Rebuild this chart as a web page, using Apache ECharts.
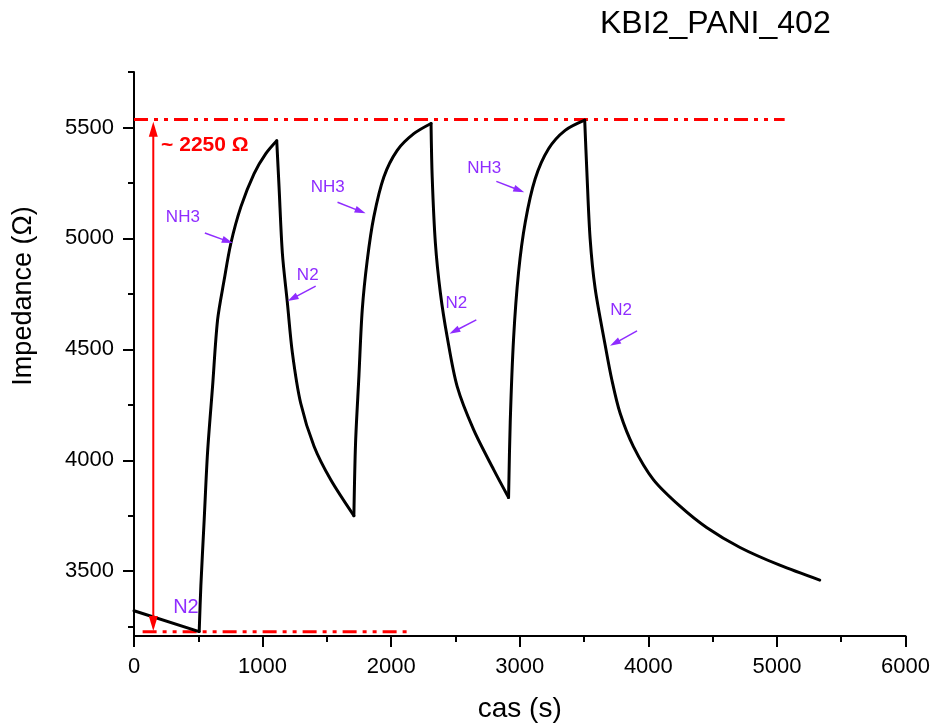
<!DOCTYPE html>
<html>
<head>
<meta charset="utf-8">
<script src="https://cdn.jsdelivr.net/npm/echarts@6/dist/echarts.min.js"></script>
<style>
  html, body { margin: 0; background: #fff; }
  #main { width: 933px; height: 728px; }
</style>
</head>
<body>
<div id="main"></div>
<script>
// time (s) and impedance (Ohm)
const time = [
  0, 507,
  520, 546, 572, 611, 650, 701, 753, 831, 934, 1025, 1110,
  1128, 1154, 1193, 1232, 1296, 1400, 1529, 1710,
  1723, 1749, 1775, 1814, 1865, 1943, 2047, 2176, 2310,
  2319, 2344, 2383, 2435, 2513, 2641, 2797, 2913,
  2926, 2952, 2991, 3043, 3120, 3224, 3353, 3505,
  3522, 3547, 3586, 3664, 3716, 3780, 3883, 4039, 4246, 4453, 4713, 5022, 5333
]
const impedance = [
  3322, 3228,
  3434, 3734, 4035, 4333, 4633, 4812, 4977, 5142, 5292, 5382, 5440,
  5232, 4932, 4708, 4483, 4258, 4063, 3913, 3750,
  4078, 4378, 4678, 4902, 5097, 5277, 5397, 5472, 5518,
  5277, 4977, 4753, 4558, 4333, 4138, 3958, 3832,
  4175, 4550, 4850, 5074, 5269, 5404, 5487, 5533,
  5299, 5000, 4775, 4520, 4363, 4213, 4063, 3913, 3793, 3697, 3607, 3527, 3460
]

const yMajor = [3500, 4000, 4500, 5000, 5500]
const yMinor = [3250, 3750, 4250, 4750, 5250, 5750]

// red guide lines and the span arrow
const topLine = [[0, 5536], [5060, 5536]]
const bottomLine = [[67, 3227], [2158, 3227]]
const spanArrow = [[150, 3230], [150, 5526]]
const spanText = [{name: '~ 2250 Ω', value: [551, 5419]}]

// gas annotations
const gasLabels = [
  {name: 'NH3', value: [380, 5096]},
  {name: 'N2', value: [1351, 4835]},
  {name: 'NH3', value: [1506, 5230]},
  {name: 'N2', value: [2507, 4709]},
  {name: 'NH3', value: [2724, 5316]},
  {name: 'N2', value: [3788, 4678]}
]
const gasArrows = [
  [[551, 5024], [768, 4979]],
  [[1413, 4785], [1195, 4718]],
  [[1583, 5163], [1801, 5113]],
  [[2662, 4633], [2453, 4570]],
  [[2818, 5257], [3035, 5208]],
  [[3912, 4583], [3702, 4516]]
]
const startLabel = [{name: 'N2', value: [404, 3338]}]

const font = 'Liberation Sans, Arial, sans-serif'
const purple = '#8f2cff'
const red = '#ff0000'

// split the trace where it turns, so each rise/decay is smoothed on its own
const segments = []
let start = 0
for (let i = 1; i < time.length - 1; i++) {
  if ((impedance[i] - impedance[i - 1]) * (impedance[i + 1] - impedance[i]) < 0) {
    segments.push(time.slice(start, i + 1).map((t, k) => [t, impedance[start + k]]))
    start = i
  }
}
segments.push(time.slice(start).map((t, k) => [t, impedance[start + k]]))

const chart = echarts.init(document.getElementById('main'))

const yBase = {
  type: 'value',
  min: 3208,
  max: 5750,
  splitLine: {show: false}
}

const textSeries = (data, size, color, weight) => ({
  type: 'scatter',
  data: data,
  symbolSize: 0,
  itemStyle: {opacity: 1},
  emphasis: {disabled: true},
  label: {
    show: true, position: 'inside', formatter: '{b}',
    fontFamily: font, fontSize: size, fontWeight: weight || 'normal', color: color
  }
})

chart.setOption({
  animation: false,
  title: {
    text: 'KBI2_PANI_402',
    left: 600,
    top: 8,
    padding: 0,
    textStyle: {fontFamily: font, fontSize: 32, fontWeight: 'normal', color: '#000'}
  },
  grid: {left: 134, right: 27, top: 72, bottom: 90},
  xAxis: {
    type: 'value',
    min: 0,
    max: 6000,
    interval: 1000,
    name: 'cas (s)',
    nameLocation: 'middle',
    nameGap: 59,
    nameTextStyle: {fontFamily: font, fontSize: 28, color: '#000'},
    axisLine: {lineStyle: {color: '#000', width: 2}},
    axisTick: {length: 11, lineStyle: {color: '#000', width: 2}},
    minorTick: {show: true, splitNumber: 2, length: 6, lineStyle: {color: '#000', width: 2}},
    axisLabel: {fontFamily: font, fontSize: 22, color: '#000', margin: 20, formatter: v => String(v)},
    splitLine: {show: false}
  },
  yAxis: [
    Object.assign({}, yBase, {
      axisLine: {show: true, lineStyle: {color: '#000', width: 2}},
      axisTick: {customValues: yMajor, length: 11, lineStyle: {color: '#000', width: 2}},
      axisLabel: {customValues: yMajor, fontFamily: font, fontSize: 22, color: '#000', margin: 20, formatter: v => String(v)}
    }),
    Object.assign({}, yBase, {
      position: 'left',
      axisLine: {show: false},
      axisTick: {customValues: yMinor, length: 6, lineStyle: {color: '#000', width: 2}},
      axisLabel: {show: false}
    })
  ],
  series: segments.map(seg => ({
    type: 'line',
    data: seg,
    showSymbol: false,
    smooth: 0.3,
    lineStyle: {color: '#000', width: 3, cap: 'round', join: 'round'},
    z: 5
  })).concat([
    {
      type: 'line',
      data: topLine,
      showSymbol: false,
      lineStyle: {color: red, width: 3, type: [14, 6, 4, 6, 4, 6]}
    },
    {
      type: 'line',
      data: bottomLine,
      showSymbol: false,
      lineStyle: {color: red, width: 3, type: [14, 6, 4, 6, 4, 6]}
    },
    textSeries(gasLabels, 17, purple),
    textSeries(startLabel, 20, purple),
    textSeries(spanText, 21, red, 'bold')
  ])
})

// arrows: placed from data coords through the grid, tips land on the end points
const finder = {xAxisIndex: 0, yAxisIndex: 0}
const graphics = [{
  type: 'text',
  x: 24,
  y: 296,
  rotation: Math.PI / 2,
  style: {
    text: 'Impedance (Ω)',
    font: '27px ' + font,
    fill: '#000',
    textAlign: 'center',
    textVerticalAlign: 'middle'
  }
}]

function head(tip, ux, uy, len, w, color) {
  const bx = tip[0] - ux * len, by = tip[1] - uy * len
  return {
    type: 'polygon', z: 20,
    shape: {points: [tip, [bx - uy * w / 2, by + ux * w / 2], [bx + uy * w / 2, by - ux * w / 2]]},
    style: {fill: color}
  }
}

function arrow(coords, color, width, len, w, both) {
  const a = chart.convertToPixel(finder, coords[0])
  const b = chart.convertToPixel(finder, coords[1])
  const d = Math.hypot(b[0] - a[0], b[1] - a[1])
  const ux = (b[0] - a[0]) / d, uy = (b[1] - a[1]) / d
  const s = both ? [a[0] + ux * len, a[1] + uy * len] : a
  graphics.push({
    type: 'line', z: 20,
    shape: {x1: s[0], y1: s[1], x2: b[0] - ux * len * 0.8, y2: b[1] - uy * len * 0.8},
    style: {stroke: color, lineWidth: width}
  })
  graphics.push(head(b, ux, uy, len, w, color))
  if (both) graphics.push(head(a, -ux, -uy, len, w, color))
}

arrow(spanArrow, red, 2, 15, 9, true)
gasArrows.forEach(c => arrow(c, purple, 1.5, 11, 7, false))

chart.setOption({graphic: graphics})
</script>
</body>
</html>
